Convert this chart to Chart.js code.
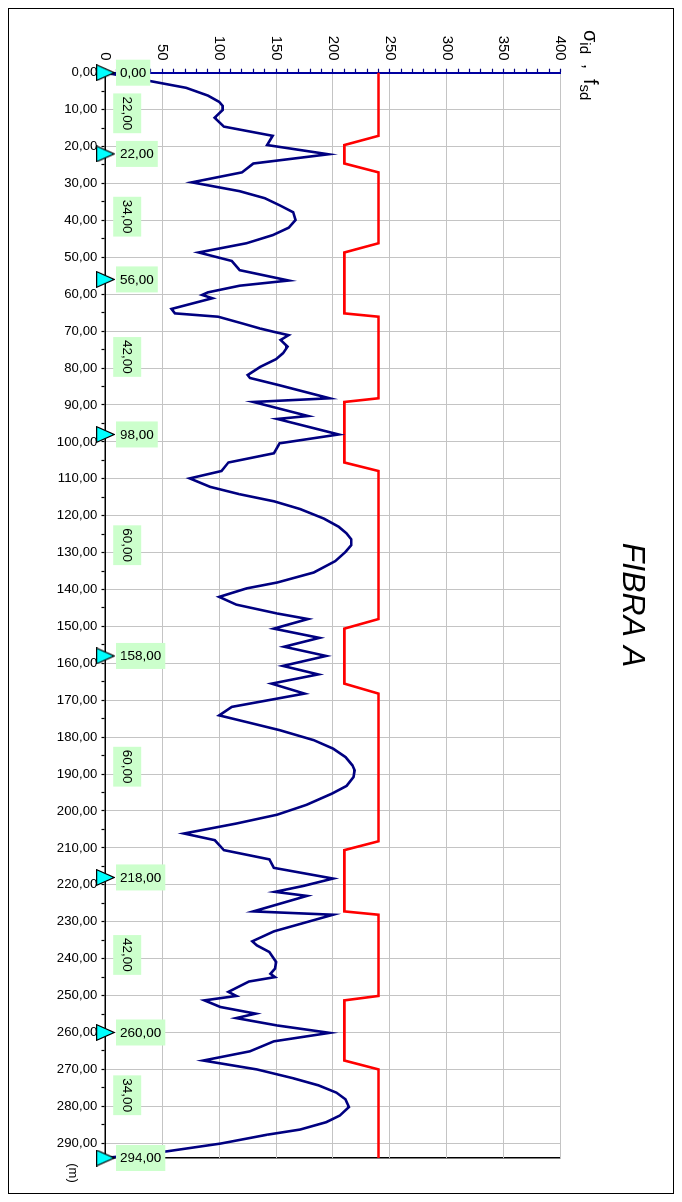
<!DOCTYPE html>
<html>
<head>
<meta charset="utf-8">
<script src="https://cdn.jsdelivr.net/npm/chart.js@4.4.1/dist/chart.umd.min.js"></script>
<style>
  html, body { margin: 0; padding: 0; background: #fff; width: 682px; height: 1202px; overflow: hidden; }
  /* the chart is laid out landscape and turned a quarter turn clockwise */
  #wrap { position: absolute; left: 0; top: 0; width: 1202px; height: 682px;
          transform-origin: 0 0; transform: translateX(682px) rotate(90deg); }
  canvas { display: block; }
</style>
</head>
<body>
<div id="wrap"><canvas id="c" width="1202" height="682"></canvas></div>
<script>
// progressive distance along the fibre (m) and ideal stress σid
const distance = [0, 4.1, 6.2, 7.9, 9.0, 10.1, 12.2, 14.6, 17.1, 19.6, 22.1, 24.6, 27.0, 29.7, 32.1, 34.0, 35.9, 37.8, 39.9, 42.0,
  44.0, 46.2, 48.7, 51.0, 53.5, 56.3, 57.7, 59.5, 60.2, 61.1, 64.0, 65.2, 66.1, 67.9, 69.3, 70.2, 71.1, 72.4, 74.2, 76.0,
  77.6, 79.7, 81.9, 82.7, 84.6, 88.2, 89.2, 93.0, 93.8, 98.0, 100.4, 103.1, 105.6, 107.9, 109.9, 112.2, 114.2, 116.1, 118.2, 120.8,
  123.0, 124.8, 126.4, 128.0, 129.8, 132.3, 135.4, 138.1, 139.7, 142.0, 144.1, 146.5, 148.0, 150.6, 153.1, 155.5, 158.0, 160.7, 163.0, 165.5,
  168.2, 171.8, 174.1, 175.9, 178.1, 180.8, 183.1, 185.4, 187.6, 189.0, 190.8, 193.2, 195.3, 198.3, 201.0, 203.4, 206.1, 207.9, 210.6, 213.1,
  215.4, 218.3, 220.3, 221.9, 223.0, 227.2, 228.1, 232.6, 235.3, 236.4, 238.2, 240.9, 242.7, 244.1, 245.0, 246.2, 249.0, 250.1, 251.3, 253.1,
  254.9, 256.1, 258.1, 260.1, 262.4, 265.1, 267.6, 270.0, 272.4, 274.3, 276.3, 278.1, 280.2, 282.5, 284.3, 286.3, 287.7, 290.1, 292.2, 294.0];
const sigmaId = [0, 71, 90, 100, 103, 103, 96, 104, 147, 142, 196, 130, 120, 76, 118, 140, 153, 165, 167, 161,
  147, 124, 82, 111, 118, 161, 118, 90, 85, 94, 58, 61, 99, 120, 136, 148, 161, 154, 160, 156,
  150, 136, 125, 127, 152, 197, 130, 178, 151, 205, 153, 148, 108, 102, 74, 92, 118, 148, 171, 192,
  205, 212, 216, 216, 211, 202, 183, 151, 124, 100, 115, 151, 178, 148, 188, 157, 194, 156, 187, 146,
  175, 111, 100, 124, 153, 183, 200, 211, 217, 219, 218, 212, 199, 177, 151, 115, 69, 96, 104, 144,
  148, 200, 174, 149, 177, 130, 200, 148, 129, 133, 144, 150, 149, 145, 149, 126, 108, 115, 87, 101,
  132, 115, 151, 197, 148, 127, 86, 133, 165, 187, 203, 211, 214, 206, 194, 171, 142, 101, 54, 0];

// design strength fsd along the fibre
const fsdDistance = [0, 17.1, 19.6, 24.6, 27.0, 46.2, 48.7, 65.2, 66.1, 88.2, 89.2, 105.6, 107.9, 148.0, 150.6, 165.5,
  168.2, 208.2, 210.6, 227.2, 228.1, 250.1, 251.3, 267.6, 270.0, 294.0];
const fsdValue = [240, 240, 210, 210, 240, 240, 210, 210, 240, 240, 210, 210, 240, 240, 210, 210,
  240, 240, 210, 210, 240, 240, 210, 210, 240, 240];

// supports (progressive position, m) and span lengths between them (m)
const supports = [0, 22, 56, 98, 158, 218, 260, 294];
const spans = [22, 34, 42, 60, 60, 42, 34];

// axis tick labels
const distanceTicks = [0, 10, 20, 30, 40, 50, 60, 70, 80, 90, 100, 110, 120, 130, 140, 150, 160, 170, 180, 190,
  200, 210, 220, 230, 240, 250, 260, 270, 280, 290];
const stressTicks = [0, 50, 100, 150, 200, 250, 300, 350, 400];

const FONT = '"Liberation Sans", Arial, sans-serif';
const fmt = v => v.toFixed(2).replace('.', ',');

// cyan support marker
function supportMarker() {
  const c = document.createElement('canvas');
  c.width = 17; c.height = 19;
  const g = c.getContext('2d');
  g.beginPath();
  g.moveTo(8.5, 0.7);
  g.lineTo(16.3, 18.3);
  g.lineTo(0.7, 18.3);
  g.closePath();
  g.fillStyle = '#00FFFF';
  g.fill();
  g.lineWidth = 1.2;
  g.strokeStyle = '#000';
  g.stroke();
  return c;
}

const frame = {
  id: 'frame',
  beforeDraw(chart) {
    const ctx = chart.ctx;
    ctx.save();
    ctx.fillStyle = '#fff';
    ctx.fillRect(0, 0, chart.width, chart.height);
    ctx.strokeStyle = '#000';
    ctx.lineWidth = 1;
    ctx.strokeRect(8.5, 8.5, 1185, 665);
    ctx.restore();
  },
  afterDraw(chart) {
    const ctx = chart.ctx;
    ctx.save();
    ctx.fillStyle = '#000';
    // chart title
    ctx.font = 'italic 32px ' + FONT;
    ctx.textAlign = 'center';
    ctx.textBaseline = 'middle';
    ctx.fillText('FIBRA A', 605, 50);
    // value axis title: σid , fsd
    let x = 30;
    const base = 98;
    const part = (t, size, dy) => {
      ctx.font = size + 'px ' + FONT;
      ctx.textAlign = 'left';
      ctx.textBaseline = 'alphabetic';
      ctx.fillText(t, x, base + dy);
      x += ctx.measureText(t).width;
    };
    part('σ', 20, 0); part('id', 15, 4); part('  ,  ', 18, 0); part('f', 20, 0); part('sd', 15, 4);
    // distance unit
    ctx.font = '13px ' + FONT;
    ctx.textAlign = 'center';
    ctx.textBaseline = 'middle';
    ctx.fillText('(m)', 1173, 609);
    ctx.restore();
  }
};

const boxLabels = {
  id: 'boxLabels',
  afterDatasetsDraw(chart) {
    const { ctx, scales: { x, y } } = chart;
    const y0 = y.getPixelForValue(0);
    ctx.save();
    ctx.font = '13.5px ' + FONT;
    // support positions, written along the distance axis
    supports.forEach(d => {
      const px = x.getPixelForValue(d);
      const t = fmt(d);
      const w = ctx.measureText(t).width;
      ctx.save();
      ctx.translate(px, y0 - 10.5);
      ctx.rotate(-Math.PI / 2);
      ctx.fillStyle = '#CCFFCC';
      ctx.fillRect(0, -13, w + 8, 26);
      ctx.fillStyle = '#000';
      ctx.textAlign = 'left';
      ctx.textBaseline = 'middle';
      ctx.fillText(t, 4, 0.5);
      ctx.restore();
    });
    // span lengths, centred between supports
    spans.forEach((s, i) => {
      const px = x.getPixelForValue((supports[i] + supports[i + 1]) / 2);
      const cy = y0 - 21.7;
      const t = fmt(s);
      const w = ctx.measureText(t).width;
      ctx.fillStyle = '#CCFFCC';
      ctx.fillRect(px - w / 2 - 3, cy - 14, w + 6, 28);
      ctx.fillStyle = '#000';
      ctx.textAlign = 'center';
      ctx.textBaseline = 'middle';
      ctx.fillText(t, px, cy + 0.5);
    });
    ctx.restore();
  }
};

const distMinor = [];
distanceTicks.forEach(v => { distMinor.push(v); distMinor.push(v + 5); });
const stressMinor = [];
stressTicks.forEach(v => { for (let k = 0; k < 50 && v + k <= 400; k += 10) stressMinor.push(v + k); });

new Chart(document.getElementById('c'), {
  type: 'scatter',
  data: {
    datasets: [
      {
        label: 'appoggi',
        data: supports.map(d => ({ x: d, y: 0 })),
        showLine: false,
        pointStyle: supportMarker(),
        pointRadius: 9,
        clip: false,
        order: 0
      },
      {
        label: 'σid',
        data: distance.map((d, i) => ({ x: d, y: sigmaId[i] })),
        showLine: true,
        borderColor: '#000080',
        borderWidth: 2.6,
        pointRadius: 0,
        tension: 0,
        clip: false,
        order: 1
      },
      {
        label: 'fsd',
        data: fsdDistance.map((d, i) => ({ x: d, y: fsdValue[i] })),
        showLine: true,
        borderColor: '#FF0000',
        borderWidth: 2.6,
        pointRadius: 0,
        tension: 0,
        clip: false,
        order: 2
      }
    ]
  },
  options: {
    responsive: false,
    devicePixelRatio: 1,
    animation: false,
    events: [],
    layout: { padding: { top: 121.5, right: 44, bottom: 0, left: 0 } },
    plugins: { legend: { display: false }, tooltip: { enabled: false }, title: { display: false } },
    scales: {
      x: {
        type: 'linear',
        position: 'bottom',
        min: 0,
        max: 294,
        afterBuildTicks: s => { s.ticks = distMinor.concat([294]).map(v => ({ value: v })); },
        afterFit: s => { s.height = 105.5; },
        ticks: {
          autoSkip: false,
          minRotation: 90,
          maxRotation: 90,
          padding: 4,
          color: '#000',
          font: { family: FONT, size: 13.3 },
          callback: v => (distanceTicks.includes(v) ? fmt(v) : '')
        },
        grid: {
          color: c => (c.tick && c.tick.value === 294 ? '#000' : (c.tick && distanceTicks.includes(c.tick.value) ? '#c4c4c4' : 'rgba(0,0,0,0)')),
          lineWidth: c => (c.tick && c.tick.value === 294 ? 1.5 : 1),
          tickColor: '#000',
          tickLength: 4,
          tickWidth: 1.2
        },
        border: { color: '#000', width: 1.5 }
      },
      y: {
        type: 'linear',
        position: 'left',
        min: 0,
        max: 400,
        afterBuildTicks: s => { s.ticks = stressMinor.map(v => ({ value: v })); },
        afterFit: s => { s.width = 72.7; },
        ticks: {
          autoSkip: false,
          padding: 8,
          color: '#000',
          font: { family: FONT, size: 15 },
          callback: v => (stressTicks.includes(v) ? String(v) : '')
        },
        grid: {
          color: c => (c.tick && stressTicks.includes(c.tick.value) ? '#c4c4c4' : 'rgba(0,0,0,0)'),
          lineWidth: 1,
          tickColor: '#000080',
          tickLength: 4,
          tickWidth: 1.2
        },
        border: { color: '#0000A0', width: 2 }
      }
    }
  },
  plugins: [frame, boxLabels]
});
</script>
</body>
</html>
